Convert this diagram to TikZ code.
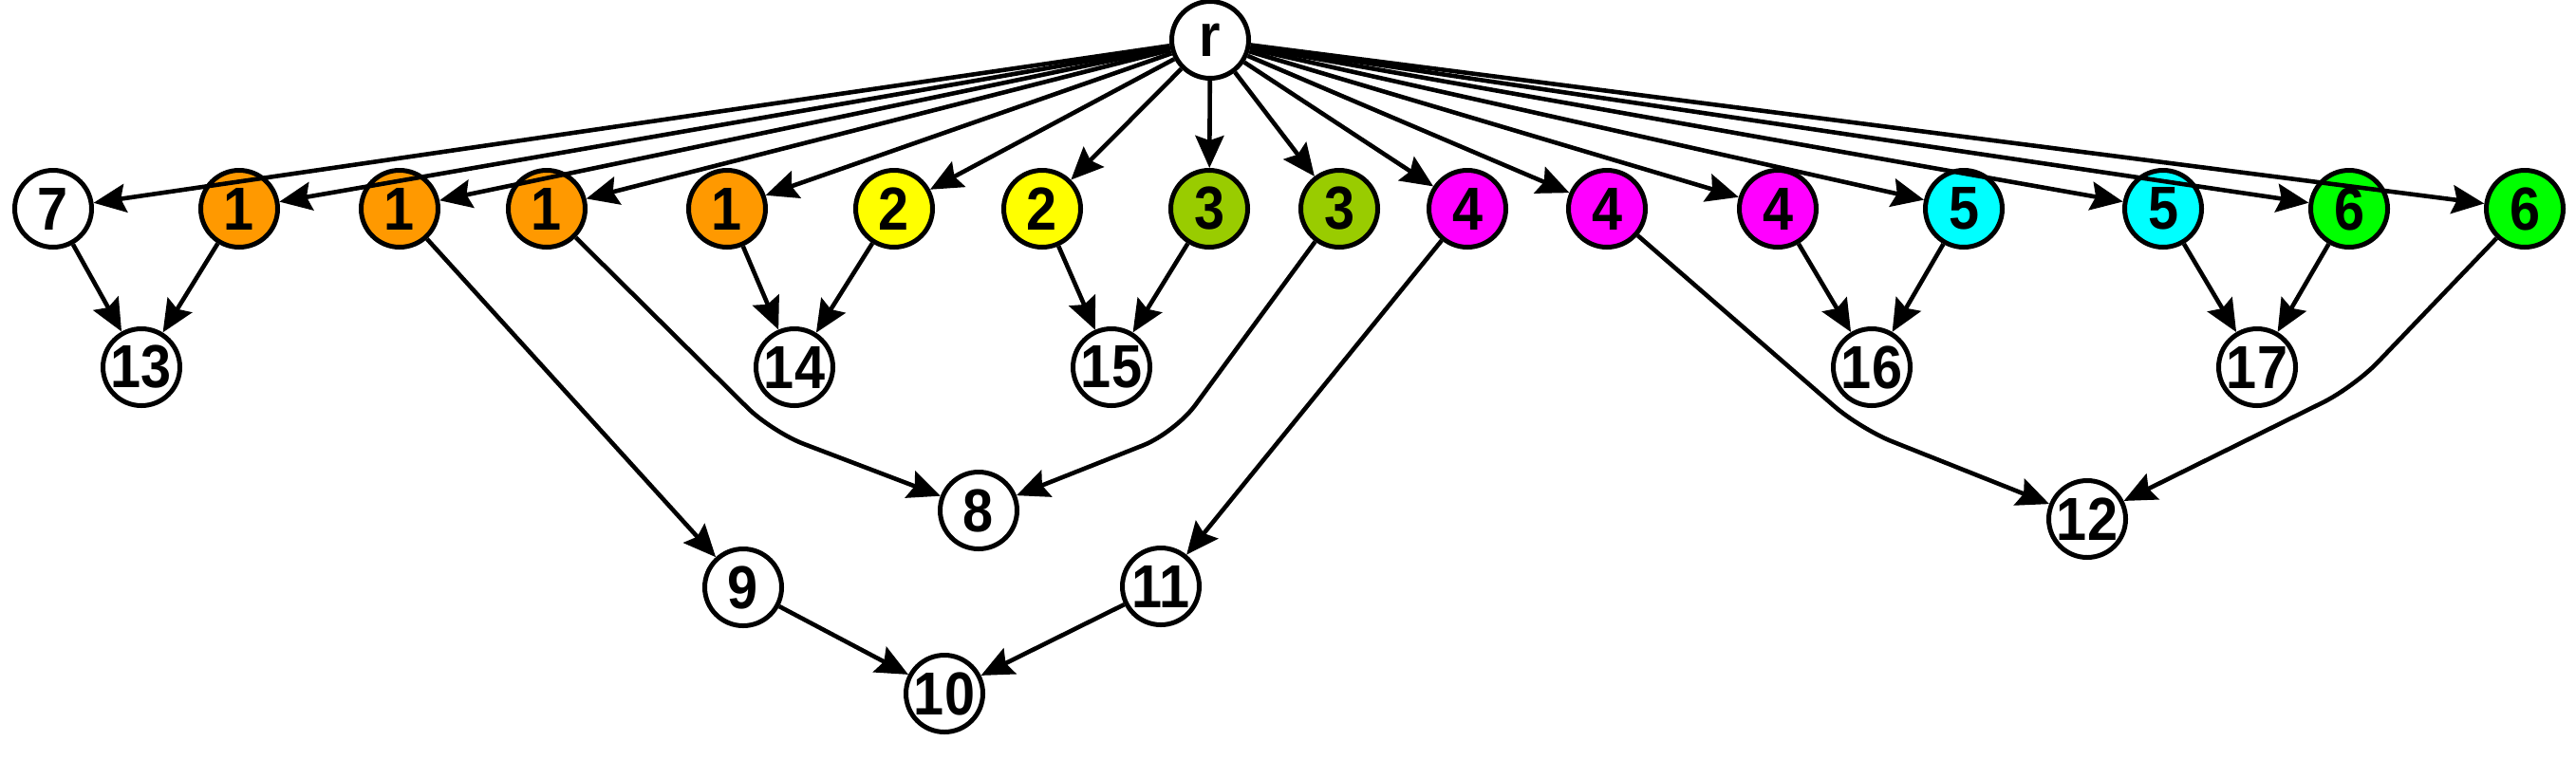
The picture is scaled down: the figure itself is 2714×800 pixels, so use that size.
\documentclass[tikz,border=0pt]{standalone}
\usepackage{fontspec}
\setmainfont{Liberation Sans}[FakeStretch=0.9]
\usetikzlibrary{arrows.meta}
\definecolor{corange}{HTML}{FF9900}
\definecolor{cyellow}{HTML}{FFFF00}
\definecolor{colive}{HTML}{99CC00}
\definecolor{cmagenta}{HTML}{FF00FF}
\definecolor{ccyan}{HTML}{00FFFF}
\definecolor{cgreen}{HTML}{00FF00}
\tikzset{
  vtx/.style={circle, draw=black, line width=2.5pt, minimum size=40.5pt, inner sep=0pt, fill=white,
    font=\fontsize{32}{32}\selectfont\bfseries},
  edge/.style={line width=2.3pt, -{Stealth[length=17pt, width=15pt, inset=2.5pt]}},
  bent/.style={edge, rounded corners=18pt}
}
\begin{document}
\begin{tikzpicture}[x=0.5pt, y=-0.5pt]
\useasboundingbox (0,0) rectangle (2714,800);
% nodes
\node[vtx] (r) at (1275,42) {r};
\node[vtx] (n7) at (56,220) {7};
\node[vtx, fill=corange] (a1) at (252,220) {1};
\node[vtx, fill=corange] (a2) at (421,220) {1};
\node[vtx, fill=corange] (a3) at (576,220) {1};
\node[vtx, fill=corange] (a4) at (766,220) {1};
\node[vtx, fill=cyellow] (b1) at (942,220) {2};
\node[vtx, fill=cyellow] (b2) at (1098,220) {2};
\node[vtx, fill=colive] (c1) at (1274,220) {3};
\node[vtx, fill=colive] (c2) at (1411,220) {3};
\node[vtx, fill=cmagenta] (d1) at (1546,220) {4};
\node[vtx, fill=cmagenta] (d2) at (1693,220) {4};
\node[vtx, fill=cmagenta] (d3) at (1873,220) {4};
\node[vtx, fill=ccyan] (e1) at (2069,220) {5};
\node[vtx, fill=ccyan] (e2) at (2279,220) {5};
\node[vtx, fill=cgreen] (f1) at (2475,220) {6};
\node[vtx, fill=cgreen] (f2) at (2660,220) {6};
\node[vtx] (n13) at (149,387) {13};
\node[vtx] (n14) at (837,387) {14};
\node[vtx] (n15) at (1171,387) {15};
\node[vtx] (n16) at (1972,387) {16};
\node[vtx] (n17) at (2378,387) {17};
\node[vtx] (n8) at (1031,538) {8};
\node[vtx] (n9) at (783,619) {9};
\node[vtx] (n11) at (1223,618) {11};
\node[vtx] (n10) at (995,731) {10};
\node[vtx] (n12) at (2199,547) {12};
% waypoints
\coordinate (w8a) at (813,455);
\coordinate (w8b) at (1238,456);
\coordinate (w12a) at (1960,452);
\coordinate (w12b) at (2480,408);
% edges from r
\foreach \t in {n7,a1,a2,a3,a4,b1,b2,c1,c2,d1,d2,d3,e1,e2,f1,f2}
  \draw[edge] (r) -- (\t);
% other edges
\draw[edge] (n7) -- (n13);
\draw[edge] (a1) -- (n13);
\draw[edge] (a4) -- (n14);
\draw[edge] (b1) -- (n14);
\draw[edge] (b2) -- (n15);
\draw[edge] (c1) -- (n15);
\draw[edge] (d3) -- (n16);
\draw[edge] (e1) -- (n16);
\draw[edge] (e2) -- (n17);
\draw[edge] (f1) -- (n17);
\draw[edge] (a2) -- (n9);
\draw[edge] (d1) -- (n11);
\draw[edge] (n9) -- (n10);
\draw[edge] (n11) -- (n10);
\draw[bent] (a3) -- (w8a) -- (n8);
\draw[bent] (c2) -- (w8b) -- (n8);
\draw[bent] (d2) -- (w12a) -- (n12);
\draw[bent] (f2) -- (w12b) -- (n12);
\end{tikzpicture}
\end{document}
